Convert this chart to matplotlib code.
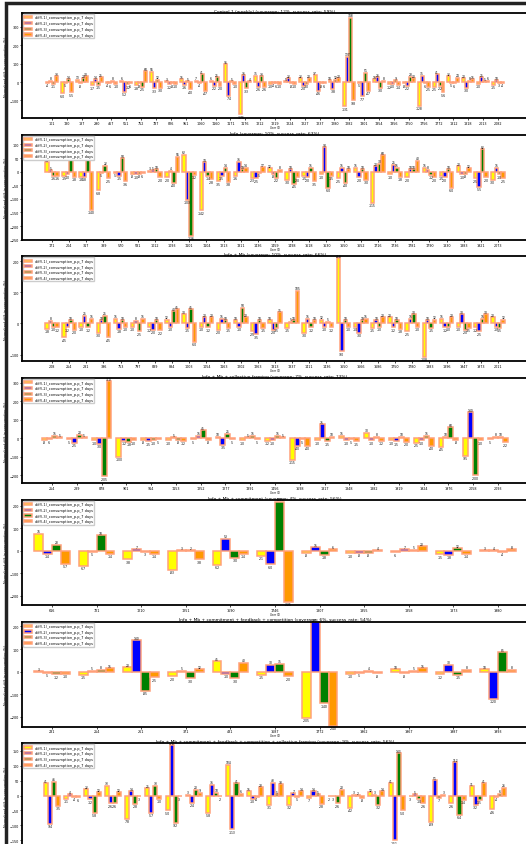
import numpy as np
import matplotlib.pyplot as plt
from matplotlib.patches import Rectangle

series_labels = ["diff(-1)_consumption_p.p_7 days", "diff(-2)_consumption_p.p_7 days",
                 "diff(-3)_consumption_p.p_7 days", "diff(-4)_consumption_p.p_7 days"]
bar_colors = ["#FFFF00", "#0000FF", "#008000", "#FF9900"]

titles = [
    "Control 1 (weekly) (coverage: 12%, success_rate: 59%)",
    "Info (coverage: 10%, success_rate: 63%)",
    "Info + Mb (coverage: 10%, success_rate: 66%)",
    "Info + Mb + collective framing (coverage: 7%, success_rate: 73%)",
    "Info + Mb + commitment (coverage: 4%, success_rate: 56%)",
    "Info + Mb + commitment + feedback + competition (coverage: 6%, success_rate: 54%)",
    "Info + Mb + commitment + feedback + competition + collective framing (coverage: 9%, success_rate: 56%)",
]

# ---- panel 1 ----
p1_ids = ["101", "130", "187", "290", "467", "551", "752", "787", "826", "951", "1060",
          "1160", "1171", "1176", "1212", "1219", "1224", "1227", "1237", "1280", "1282",
          "1301", "1354", "1356", "1750", "1756", "1772", "1812", "1818", "2013", "2082"]
p1_vals = [[-4, 8, -11, 33], [-60, -5, 14, -55], [13, -8, 20, 30], [-17, 14, -15, 25],
           [-4, -6, 8, -10], [6, -52, -12, -6], [-18, -8, -25, 60], [55, -33, 12, -30],
           [3, -12, -8, -10], [15, -16, 5, -40], [7, -4, 41, -47], [6, -22, 25, -20],
           [95, -74, 5, -10], [-176, 36, -33, 4], [35, -26, 33, -26], [-10, -4, -6, -10],
           [5, 22, -8, -10], [22, -20, -10, 20], [37, -46, -8, -6], [10, -38, 12, 20],
           [-131, 137, 348, -98], [-5, -77, 51, -47], [15, 26, -30, 8], [-12, -10, 9, -14],
           [-8, -22, 28, 20], [-128, 35, -6, -25], [-25, 41, -22, -56], [32, -5, -6, 24],
           [20, -30, 8, 15], [-10, 25, 5, 6], [-15, 10, -3, -4]]

# ---- panel 2 ----
p2_ids = ["171", "204", "317", "389", "570", "581", "1012", "1093", "1101", "1104", "1213",
          "1311", "1436", "1459", "1498", "1618", "1630", "1650", "1652", "1716", "1736",
          "1781", "1790", "1830", "1883", "1921", "2073"]
p2_vals = [[34, 5, -16, -16], [-15, -10, 95, -18], [-18, -18, 117, -140], [-68, -5, 22, -25],
           [-5, -15, 50, -36], [-8, -10, -8, -6], [3, 5, 10, -20], [-20, 4, -40, 55],
           [62, -103, -236, -12], [-142, 34, -14, -28], [-35, -15, 14, -38], [-16, 36, 10, 14],
           [-23, -25, -5, 17], [12, -8, -22, 8], [-30, 10, -45, -20], [-15, -20, 15, -35],
           [-10, 90, -60, -15], [-25, 15, -40, 10], [15, -20, 10, -30], [-115, 20, 30, 60],
           [-10, 25, 15, -18], [-20, 10, 10, 40], [15, 8, -12, -20], [-15, -20, 10, -60],
           [20, -10, -8, 12], [-25, -55, 82, -20], [-30, 15, -10, -25]]

# ---- panel 3 ----
p3_ids = ["208", "254", "281", "396", "753", "797", "839", "884", "1003", "1054", "1163",
          "1202", "1263", "1313", "1337", "1411", "1436", "1650", "1666", "1686", "1750",
          "1780", "1883", "1896", "1947", "1973", "2011"]
p3_vals = [[-18, 8, -10, -12], [-45, -12, 10, -20], [-10, 25, -12, 15], [-30, 10, 25, -45],
           [15, -18, 10, -10], [-10, 8, -25, 15], [-12, -20, 10, -22], [12, -10, 40, 45],
           [30, -15, 45, -60], [-10, 20, -12, 20], [-20, 15, 10, -15], [10, -10, 50, 20],
           [-25, -35, 10, -15], [10, -20, -15, 35], [-15, 5, 10, 105], [-30, 15, -12, 10],
           [12, -10, 5, -12], [210, -90, 10, -10], [-10, -30, 10, 15], [-15, 10, -10, 20],
           [20, -12, 10, -18], [-25, 15, 30, -10], [-108, 10, -15, 12], [15, -12, -10, 20],
           [-10, 30, -20, -15], [-12, -25, 15, 30], [20, -10, -15, 12]]

# ---- panel 4 ----
p4_ids = ["254", "289", "878", "901", "914", "1153", "1252", "1277", "1391", "1456",
          "1698", "1817", "1848", "1882", "1919", "1924", "1976", "2058", "2093"]
p4_vals = [[-8, -6, 15, 5], [-5, -25, 20, 5], [-10, -30, -205, 310], [-100, -12, -18, -10],
           [-8, -15, -10, -5], [-10, 5, -8, -12], [-5, 15, 45, -8], [10, -35, 25, -5],
           [-10, 5, 15, -5], [-12, -10, 15, 5], [-115, -40, -5, -40], [-10, 75, -15, 10],
           [15, -10, -5, -15], [30, -10, 8, -12], [-10, -15, 10, -20], [-25, -10, 15, -40],
           [-45, 10, 60, -8], [-95, 140, -200, -10], [-5, 8, 10, -22]]

# ---- panel 5 ----
p5_ids = ["616", "721", "1210", "1251", "1690", "1746", "1807", "1855", "1858", "1873", "1980"]
p5_vals = [[76, -14, 28, -57], [-67, -5, 70, -14], [-38, 7, -3, -14], [-83, 3, 2, -38],
           [-62, 53, -30, -14], [-21, -60, 217, -225], [-8, 15, -18, 6], [-10, -8, -8, 4],
           [-6, 7, 5, 20], [-15, -18, 12, -14], [3, 4, -4, 8]]

# ---- panel 6 ----
p6_ids = ["231", "254", "261", "371", "431", "1687", "1772", "1962", "1967", "1987", "1993"]
p6_vals = [[3, -5, -12, -10], [-15, 5, 8, 15], [20, 140, -85, -25], [-20, 5, -30, 12],
           [45, -10, -30, 40], [-15, 30, 35, -20], [-205, 220, -140, -240], [-10, -5, 4, -8],
           [10, -8, 5, 15], [-12, 30, -15, 8], [10, -120, 85, 8]]

# ---- panel 7 ----
p7_ids = ["118", "215", "262", "305", "412", "520", "611", "745", "806", "913", "1029",
          "1123", "1217", "1308", "1364", "1452", "1519", "1612", "1703", "1789", "1845",
          "1931", "2050"]
p7_vals = [[41, -94, 46, -35], [-11, 4, -4, -6], [22, -12, -58, 12], [33, -26, -26, 12],
           [-78, 14, -28, -3], [25, -57, 33, -10], [-50, 170, -92, -3], [3, -24, 20, 9],
           [-58, 36, 10, -2], [104, -113, 41, 6], [15, -10, -4, 28], [-31, 43, 5, 38],
           [-32, 7, -5, 14], [-7, 14, 5, -28], [-2, -3, -26, 20], [-42, 3, 2, -8],
           [12, 3, -32, 14], [41, -151, 143, -50], [-3, 5, -10, -26], [-89, 51, -7, 3],
           [-26, 112, -64, -14], [31, -32, -15, 41], [-46, -4, 6, 26]]

panels = [(p1_ids, p1_vals, (-195, 374), 100),
          (p2_ids, p2_vals, (-250, 136), 50),
          (p3_ids, p3_vals, (-122, 215), 100),
          (p4_ids, p4_vals, (-242, 326), 100),
          (p5_ids, p5_vals, (-239, 226), 100),
          (p6_ids, p6_vals, (-243, 222), 100),
          (p7_ids, p7_vals, (-177, 176), 50)]

W, H = 526, 845
fig = plt.figure(figsize=(W / 100, H / 100), dpi=100)
fig.add_artist(Rectangle((6 / W, -0.05), 1.0, 1.05 - 4 / H, transform=fig.transFigure,
                         fill=False, lw=2.5, ec="#222222"))

for i, (ids, vals, ylim, step) in enumerate(panels):
    vals = np.array(vals)
    top = 14 + 121.7 * i
    ax = fig.add_axes([22 / W, 1 - (top + 105) / H, 506 / W, 105 / H])
    n = len(ids)
    x = np.arange(n)
    for k in range(4):
        bars = ax.bar(x + (k - 1.5) * 0.2, vals[:, k], 0.2, color=bar_colors[k],
                      edgecolor="#FFA07A", linewidth=1.1, label=series_labels[k])
        ax.bar_label(bars, fmt="%.0f", fontsize=2.2, padding=0.3)
    m = 30 * (n - 1) / 446
    ax.set_xlim(-m, n - 1 + m)
    ax.set_ylim(*ylim)
    ax.set_yticks(np.arange(np.ceil(ylim[0] / step) * step, ylim[1], step))
    ax.set_xticks(x, ids)
    ax.tick_params(length=1.5, width=0.5, pad=0.6, labelsize=2.4)
    for s in ax.spines.values():
        s.set_linewidth(1.3)
    ax.set_title(titles[i], fontsize=3.2, pad=0.6)
    ax.set_xlabel("User ID", fontsize=1.9, labelpad=0)
    ax.set_ylabel("Normalized diff. in consumption (%)", fontsize=2.4, labelpad=1)
    ax.legend(loc="upper left", fontsize=2.5, handlelength=2.2, handleheight=0.6,
              borderaxespad=0.3, framealpha=1, edgecolor="#cccccc")

fig.savefig("out.png", dpi=100)
